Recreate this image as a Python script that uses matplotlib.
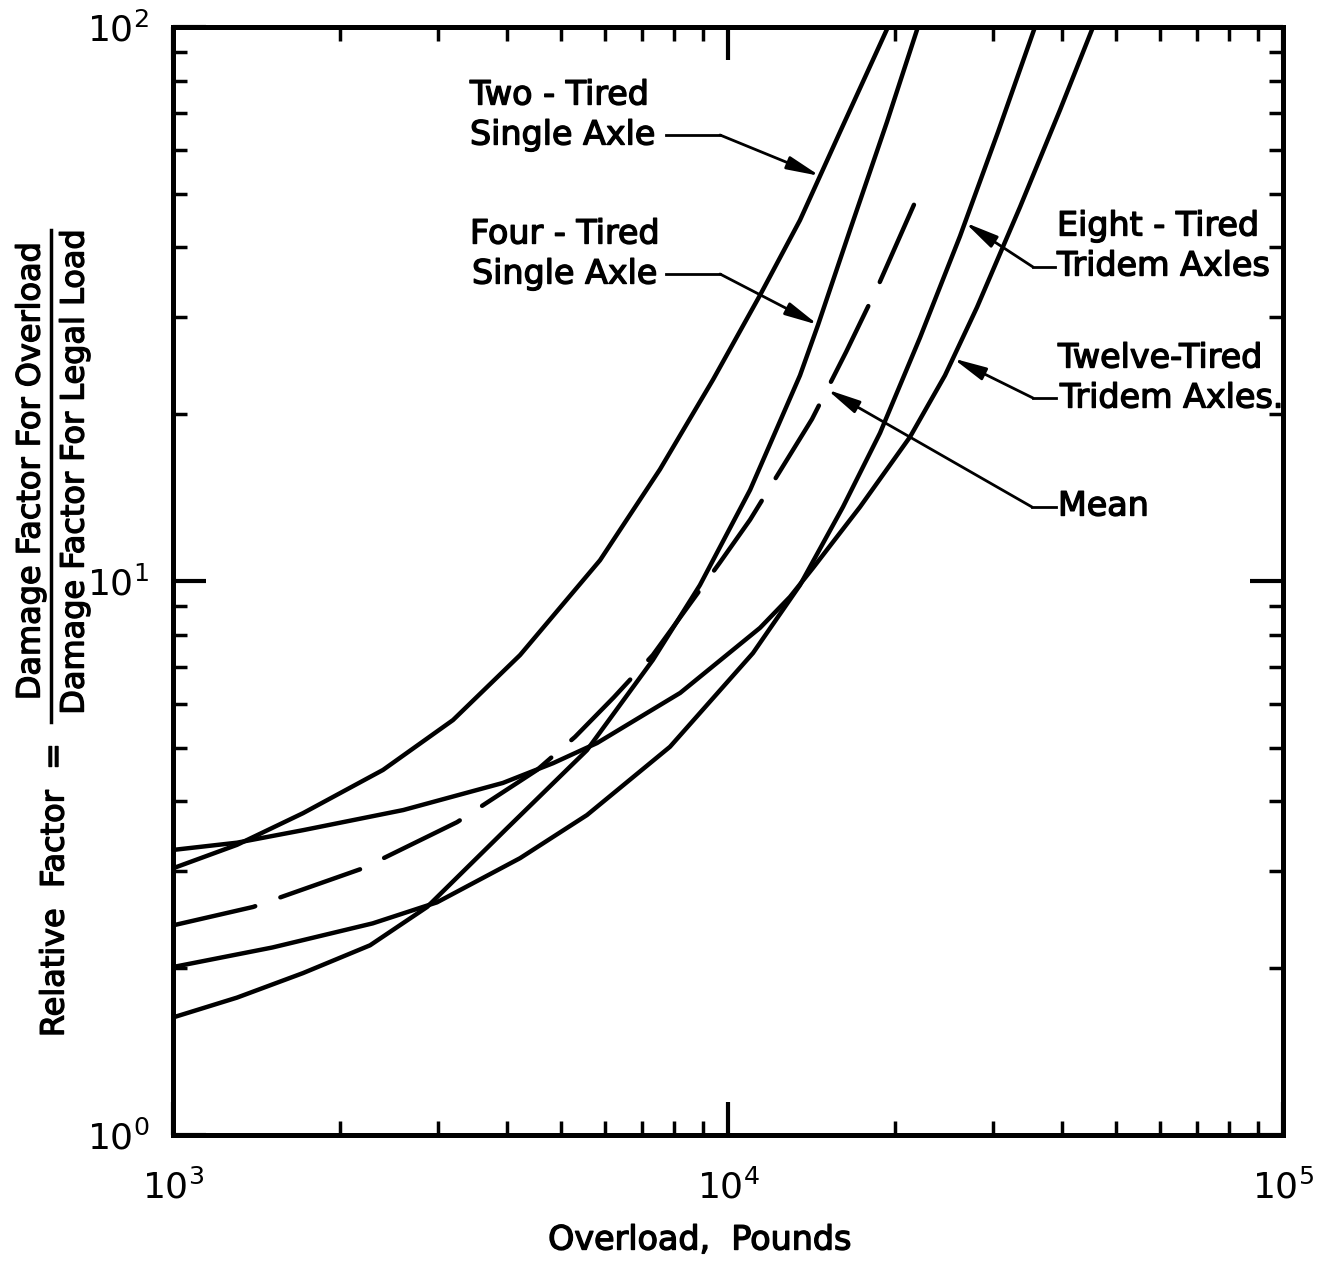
import numpy as np
import matplotlib
matplotlib.use("Agg")
import matplotlib.pyplot as plt
import matplotlib.patheffects as pe
from matplotlib.lines import Line2D
from matplotlib.ticker import LogLocator, NullFormatter

# curves (overload in lb, relative factor)
two_x = [1000, 1304, 1715, 2390, 3195, 4220, 5880, 7540, 9400, 11420, 13480, 15910, 19420]
two_y = [3.03, 3.34, 3.81, 4.56, 5.61, 7.35, 10.9, 15.9, 23.1, 32.8, 44.8, 64.6, 100]

four_x = [1000, 1304, 1715, 2265, 2870, 4000, 5570, 7320, 8900, 10960, 13480, 14530, 16590, 19340, 21990]
four_y = [1.63, 1.77, 1.96, 2.20, 2.58, 3.58, 4.95, 7.20, 9.83, 14.6, 23.5, 29.0, 43.0, 67.4, 100]

eight_x = [1000, 1510, 2290, 2990, 4220, 5570, 7860, 11090, 13480, 16110, 18790, 22180, 26180, 30650, 35740]
eight_y = [2.01, 2.18, 2.41, 2.63, 3.16, 3.78, 5.02, 7.41, 9.83, 13.6, 18.5, 27.5, 41.9, 64.6, 100]

twelve_x = [1000, 1304, 1715, 2600, 3930, 4840, 5810, 8200, 11420, 12930, 14230, 17290, 21280,
            24600, 28100, 33580, 39640, 45470]
twelve_y = [3.27, 3.37, 3.55, 3.86, 4.32, 4.69, 5.10, 6.28, 8.23, 9.36, 10.56, 13.6, 18.2,
            23.5, 31.2, 47.3, 70.8, 100]

mean_x = [1000, 1394, 2199, 3249, 4529, 5300, 6230, 7320, 9670, 10960, 12460, 14170, 16320,
          18640, 22550]
mean_y = [2.39, 2.58, 3.03, 3.67, 4.56, 5.23, 6.17, 7.35, 10.8, 12.9, 15.9, 19.6, 25.9,
          34.1, 52.5]

W, H = 1320, 1264
fig = plt.figure(figsize=(W / 100, H / 100), dpi=100)
ax = fig.add_axes([173 / W, 1 - 1135 / H, 1110 / W, 1108 / H])

lw = 3.2
ax.plot(two_x, two_y, color="black", lw=lw, solid_capstyle="round", solid_joinstyle="round")
ax.plot(four_x, four_y, color="black", lw=lw, solid_capstyle="round", solid_joinstyle="round")
ax.plot(eight_x, eight_y, color="black", lw=lw, solid_capstyle="round", solid_joinstyle="round")
ax.plot(twelve_x, twelve_y, color="black", lw=lw, solid_capstyle="round", solid_joinstyle="round")
ax.plot(mean_x, mean_y, color="black", lw=lw, dashes=(19, 6), dash_capstyle="round")

ax.set_xscale("log")
ax.set_yscale("log")
ax.set_xlim(1e3, 1e5)
ax.set_ylim(1, 100)

for s in ax.spines.values():
    s.set_linewidth(3.6)

ax.xaxis.set_minor_locator(LogLocator(base=10, subs=np.arange(2, 10)))
ax.yaxis.set_minor_locator(LogLocator(base=10, subs=np.arange(2, 10)))
ax.xaxis.set_minor_formatter(NullFormatter())
ax.yaxis.set_minor_formatter(NullFormatter())
ax.tick_params(which="major", direction="in", length=24, width=3, top=True, right=True,
               labelsize=26)
ax.tick_params(axis="x", which="major", pad=25)
ax.tick_params(axis="y", which="major", pad=17)
ax.tick_params(which="minor", direction="in", length=10, width=2.5, top=True, right=True)

bold_fx = [pe.withStroke(linewidth=1.0, foreground="black")]
txt_kw = dict(fontsize=24, color="black", family="DejaVu Sans", path_effects=bold_fx)


def fpos(x, y_top):
    return x / W, 1 - y_top / H


def curve_at(xs, ys, x):
    return 10 ** np.interp(np.log10(x), np.log10(xs), np.log10(ys))


def leader(text_end, elbow, xs, ys, tip_x):
    x0, y0 = fpos(*text_end)
    x1, y1 = fpos(*elbow)
    fig.add_artist(Line2D([x0, x1], [y0, y1], transform=fig.transFigure, lw=2, color="black"))
    ax.annotate("", xy=(tip_x, curve_at(xs, ys, tip_x)), xycoords="data",
                xytext=(x1, y1), textcoords="figure fraction",
                arrowprops=dict(arrowstyle="-|>,head_length=1.0,head_width=0.2",
                                mutation_scale=20, lw=2, color="black",
                                shrinkA=0, shrinkB=0))


# labels with leaders
fig.text(*fpos(470, 95), "Two - Tired", ha="left", va="center", **txt_kw)
fig.text(*fpos(470, 135), "Single Axle", ha="left", va="center", **txt_kw)
leader((666, 135), (720, 135), two_x, two_y, 14650)

fig.text(*fpos(470, 234), "Four - Tired", ha="left", va="center", **txt_kw)
fig.text(*fpos(472, 274), "Single Axle", ha="left", va="center", **txt_kw)
leader((666, 274), (720, 274), four_x, four_y, 14530)

fig.text(*fpos(1057, 226), "Eight - Tired", ha="left", va="center", **txt_kw)
fig.text(*fpos(1057, 266), "Tridem Axles", ha="left", va="center", **txt_kw)
leader((1055, 267), (1033, 267), eight_x, eight_y, 26730)

fig.text(*fpos(1058, 358), "Twelve-Tired", ha="left", va="center", **txt_kw)
fig.text(*fpos(1060, 398), "Tridem Axles.", ha="left", va="center", **txt_kw)
leader((1056, 398), (1033, 398), twelve_x, twelve_y, 25430)

fig.text(*fpos(1058, 506), "Mean", ha="left", va="center", **txt_kw)
leader((1056, 507), (1032, 507), mean_x, mean_y, 15080)

# axis titles
fig.text(*fpos(700, 1240), "Overload,  Pounds", ha="center", va="center", **txt_kw)
fig.text(*fpos(55, 890), "Relative  Factor  =", rotation=90, ha="center", va="center",
         fontsize=23, family="DejaVu Sans", path_effects=bold_fx)
fig.text(*fpos(31, 471), "Damage Factor For Overload", rotation=90, ha="center", va="center",
         fontsize=23, family="DejaVu Sans", path_effects=bold_fx)
fig.text(*fpos(75, 472), "Damage Factor For Legal Load", rotation=90, ha="center", va="center",
         fontsize=23, family="DejaVu Sans", path_effects=bold_fx)
bx0, by0 = fpos(51, 722)
bx1, by1 = fpos(51, 230)
fig.add_artist(Line2D([bx0, bx1], [by0, by1], transform=fig.transFigure, lw=2.5, color="black"))

fig.savefig("out.png", dpi=100, facecolor="white")
